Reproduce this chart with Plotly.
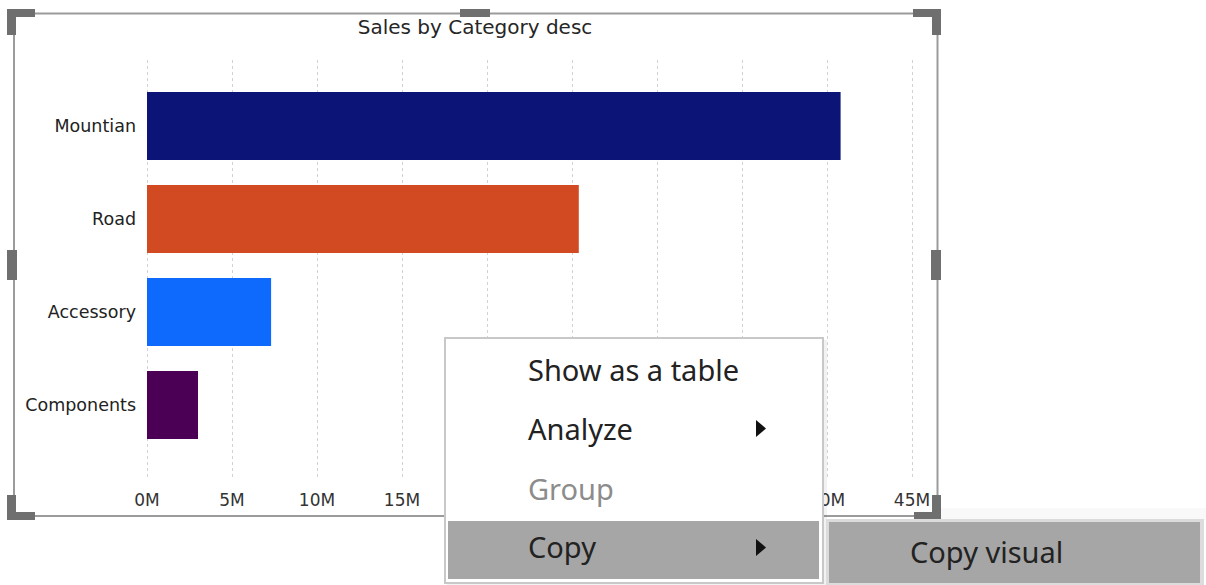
import plotly.graph_objects as go

# --- data ---------------------------------------------------------------
categories = ["Mountian", "Road", "Accessory", "Components"]
sales_m = [40.8, 25.4, 7.3, 3.0]          # sales in millions
bar_colors = ["#0c1478", "#d14a22", "#0e6afd", "#4b0056"]
tick_values = [0, 5, 10, 15, 20, 25, 30, 35, 40, 45]
# 20M-35M sit underneath the open context menu, so no label is drawn there
tick_labels = ["0M", "5M", "10M", "15M", "", "", "", "", "40M", "45M"]
menu_items = ["Show as a table", "Analyze", "Group", "Copy"]
submenu_items = ["Copy visual"]

# --- canvas geometry ----------------------------------------------------
FIG_W, FIG_H = 1206, 585
L, R, T, B = 142, 277, 60, 105
PW, PH = FIG_W - L - R, FIG_H - T - B


def px(x):
    return (x - L) / PW


def py(y):
    return 1 - (y - T) / PH


def rect(x0, y0, x1, y1, fill=None, line=None, lw=0):
    return dict(type="rect", xref="paper", yref="paper", layer="above",
                x0=px(x0), x1=px(x1), y0=py(y0), y1=py(y1),
                fillcolor=fill or "rgba(0,0,0,0)",
                line=dict(color=line or "rgba(0,0,0,0)", width=lw))


def poly(points, fill):
    d = "M " + " L ".join(f"{px(x):.5f},{py(y):.5f}" for x, y in points) + " Z"
    return dict(type="path", xref="paper", yref="paper", layer="above", path=d,
                fillcolor=fill, line=dict(width=0))


fig = go.Figure(go.Bar(
    x=sales_m, y=categories, orientation="h",
    marker=dict(color=bar_colors, line=dict(width=0)),
    width=0.73, hoverinfo="skip",
))

CHART_FONT = "DejaVu Sans"

fig.update_layout(
    width=FIG_W, height=FIG_H,
    margin=dict(l=L, r=R, t=T, b=B, pad=0),
    paper_bgcolor="white", plot_bgcolor="white",
    showlegend=False,
    title=dict(text="Sales by Category desc", x=475 / FIG_W, xanchor="center",
               y=1 - 27 / FIG_H, yanchor="middle",
               font=dict(family=CHART_FONT, size=20, color="#262626")),
    xaxis=dict(range=[-0.294, 46], tickvals=tick_values, ticktext=tick_labels,
               showgrid=True, gridcolor="#d2d2d2", griddash="dot", gridwidth=1,
               zeroline=False, showline=False, ticks="",
               ticklabelstandoff=8,
               tickfont=dict(family=CHART_FONT, size=17, color="#333333")),
    yaxis=dict(categoryorder="array", categoryarray=categories,
               range=[3.806, -0.710], showgrid=False, zeroline=False,
               showline=False, ticks="", ticklabelstandoff=5,
               tickfont=dict(family=CHART_FONT, size=17.5, color="#222222")),
)

shapes = []
# visual frame with selection handles
shapes.append(rect(14, 13.5, 937.5, 516, line="#9b9b9b", lw=2))
HANDLE = "#6f6f6f"
shapes.append(poly([(7, 9), (35, 9), (35, 17), (16, 17), (16, 35), (7, 35)], HANDLE))
shapes.append(poly([(941, 9), (913, 9), (913, 17), (932, 17), (932, 35), (941, 35)], HANDLE))
shapes.append(poly([(7, 520), (35, 520), (35, 512), (16, 512), (16, 495), (7, 495)], HANDLE))
shapes.append(poly([(941, 520), (914, 520), (914, 512), (932, 512), (932, 495), (941, 495)], HANDLE))
shapes.append(rect(460, 9, 490, 17, fill=HANDLE))
shapes.append(rect(7, 250, 17, 280, fill=HANDLE))
shapes.append(rect(931, 250, 941, 280, fill=HANDLE))

# context menu
shapes.append(rect(447, 340, 827, 586, fill="rgba(0,0,0,0.05)"))
shapes.append(rect(445, 338, 823, 583, fill="white", line="#c8c8c8", lw=2))
shapes.append(rect(448, 521, 819, 579, fill="#a6a6a6"))
shapes.append(poly([(756, 420), (766, 428.5), (756, 437)], "#111111"))
shapes.append(poly([(756, 539), (766, 547.5), (756, 556)], "#111111"))

# submenu
shapes.append(rect(940, 508, 1206, 520, fill="rgba(0,0,0,0.025)"))
shapes.append(rect(826, 519, 1204, 586, fill="#dcdcdc"))
shapes.append(rect(829, 522, 1200, 583, fill="#a6a6a6"))

fig.update_layout(shapes=shapes)

MENU_FONT = "Noto Sans"
menu_y = [369, 428, 488, 546]
menu_colors = ["#222222", "#222222", "#8c8c8c", "#222222"]
annotations = []
for text, yy, col in zip(menu_items, menu_y, menu_colors):
    annotations.append(dict(text=text, xref="paper", yref="paper",
                            x=px(526), y=py(yy), xanchor="left", yanchor="middle",
                            showarrow=False,
                            font=dict(family=MENU_FONT, size=29, color=col)))
annotations.append(dict(text=submenu_items[0], xref="paper", yref="paper",
                        x=px(986), y=py(551), xanchor="center", yanchor="middle",
                        showarrow=False,
                        font=dict(family=MENU_FONT, size=29, color="#222222")))
fig.update_layout(annotations=annotations)

fig.write_html("out.html")
